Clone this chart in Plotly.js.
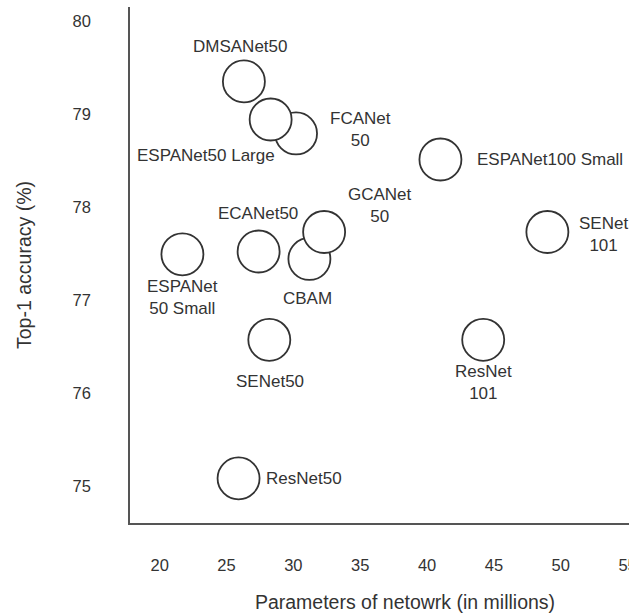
<!DOCTYPE html>
<html>
<head>
<meta charset="utf-8">
<script src="https://cdn.plot.ly/plotly-3.0.1.min.js"></script>
<style>
html, body { margin: 0; padding: 0; overflow: hidden; background: #fff; }
#chart { width: 680px; height: 613px; }
</style>
</head>
<body>
<div id="chart"></div>
<script>
// ---- data ----
const models = ['DMSANet50', 'FCANet50', 'ESPANet50 Large', 'ESPANet100 Small', 'CBAM', 'GCANet50',
                'ECANet50', 'ESPANet50 Small', 'SENet101', 'SENet50', 'ResNet50', 'ResNet101'];
const labels = ['DMSANet50', 'FCANet<br>50', 'ESPANet50 Large', 'ESPANet100 Small', 'CBAM', 'GCANet<br>50',
                'ECANet50', 'ESPANet<br>50 Small', 'SENet<br>101', 'SENet50', 'ResNet50', 'ResNet<br>101'];
const params = [26.3, 30.2, 28.3, 41.0, 31.2, 32.3, 27.4, 21.7, 49.0, 28.2, 25.9, 44.2];
const accuracy = [79.35, 78.79, 78.94, 78.51, 77.44, 77.73, 77.52, 77.49, 77.73, 76.57, 75.08, 76.57];
const xTicks = [20, 25, 30, 35, 40, 45, 50, 55];
const yTicks = [75, 76, 77, 78, 79, 80];

// ---- label placement (style) ----
const labelPlacement = {
  'DMSANet50':        {xshift: -4,  yshift: 35,  xanchor: 'center'},
  'FCANet50':         {xshift: 64,  yshift: 4,   xanchor: 'center'},
  'ESPANet50 Large':  {xshift: -65, yshift: -36, xanchor: 'center'},
  'ESPANet100 Small': {xshift: 35,  yshift: 0,   xanchor: 'left'},
  'CBAM':             {xshift: -2,  yshift: -40, xanchor: 'center'},
  'GCANet50':         {xshift: 56,  yshift: 26,  xanchor: 'center'},
  'ECANet50':         {xshift: -1,  yshift: 38,  xanchor: 'center'},
  'ESPANet50 Small':  {xshift: 0,   yshift: -43, xanchor: 'center'},
  'SENet101':         {xshift: 56,  yshift: -3,  xanchor: 'center'},
  'SENet50':          {xshift: 1,   yshift: -42, xanchor: 'center'},
  'ResNet50':         {xshift: 25,  yshift: 0,   xanchor: 'left'},
  'ResNet101':        {xshift: 0,   yshift: -43, xanchor: 'center'}
};

const textColor = '#333333';
const fontFamily = '"Liberation Sans", Arial, sans-serif';

const trace = {
  type: 'scatter',
  mode: 'markers',
  x: params,
  y: accuracy,
  text: models,
  hoverinfo: 'text',
  marker: {
    symbol: 'circle',
    size: 42,
    color: '#ffffff',
    line: {color: '#333333', width: 1.8}
  },
  showlegend: false
};

const annotations = models.map((m, i) => {
  const p = labelPlacement[m];
  return {
    x: params[i], y: accuracy[i], xref: 'x', yref: 'y',
    text: labels[i], showarrow: false,
    xshift: p.xshift, yshift: p.yshift, xanchor: p.xanchor, yanchor: 'middle',
    align: 'center',
    font: {family: fontFamily, size: 17, color: textColor}
  };
});

const layout = {
  width: 680,
  height: 613,
  margin: {l: 130, r: 0, t: 7, b: 90},
  paper_bgcolor: '#ffffff',
  plot_bgcolor: '#ffffff',
  font: {family: fontFamily, color: textColor},
  xaxis: {
    range: [17.78, 58.92],
    tickvals: xTicks,
    ticktext: xTicks.map(String),
    showgrid: false, zeroline: false,
    showline: true, linecolor: '#555555', linewidth: 1.8,
    ticks: '', ticklabelstandoff: 26,
    tickfont: {family: fontFamily, size: 16.5, color: textColor},
    title: {text: 'Parameters of netowrk (in millions)', standoff: 26,
            font: {family: fontFamily, size: 19.5, color: textColor}},
    automargin: false
  },
  yaxis: {
    range: [74.6, 80.15],
    tickvals: yTicks,
    ticktext: yTicks.map(String),
    showgrid: false, zeroline: false,
    showline: true, linecolor: '#555555', linewidth: 1.8,
    ticks: '', ticklabelstandoff: 34,
    tickfont: {family: fontFamily, size: 16.5, color: textColor},
    title: {text: 'Top-1 accuracy (%)', standoff: 36,
            font: {family: fontFamily, size: 19.5, color: textColor}},
    automargin: false
  },
  annotations: annotations
};

Plotly.newPlot('chart', [trace], layout, {displayModeBar: false, staticPlot: true});
</script>
</body>
</html>
